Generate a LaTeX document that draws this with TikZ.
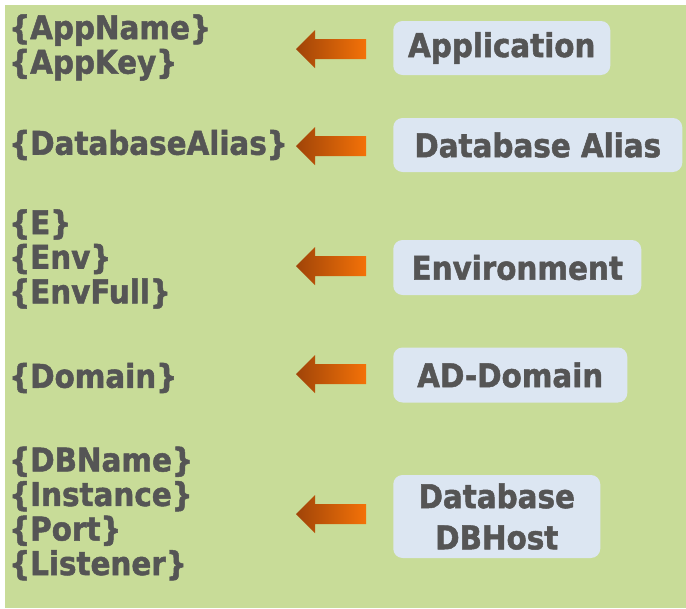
\documentclass[tikz,border=0pt]{standalone}
\usepackage{fontspec}
\setmainfont{DejaVu Sans Condensed}[BoldFeatures={FakeBold=1.5}]
\usetikzlibrary{positioning}
\definecolor{bggreen}{RGB}{200,220,152}
\definecolor{boxblue}{RGB}{220,230,242}
\definecolor{txtgray}{RGB}{85,85,85}
\definecolor{arrdark}{RGB}{160,68,8}
\definecolor{arrlight}{RGB}{244,114,8}

\begin{document}
\begin{tikzpicture}[x=0.75pt,y=-0.75pt]
  \tikzstyle{every node} = [font=\fontsize{24.5}{25.9}\selectfont\bfseries, text=txtgray];
  \tikzstyle{field} = [anchor=west, align=left, inner sep=0pt];
  \tikzstyle{srcbox} = [fill=boxblue, rounded corners=7pt, align=center, anchor=west, inner sep=0pt];
  \useasboundingbox (0,0) rectangle (686,608);
  \fill[bggreen] (5,5) rectangle (686,608);
  % placeholders on the left
  \foreach \name/\txt/\y in {appf/{\{AppName\}\\\{AppKey\}}/47.5,
                             aliasf/{\{DatabaseAlias\}}/145,
                             envf/{\{E\}\\\{Env\}\\\{EnvFull\}}/259,
                             domf/{\{Domain\}}/378,
                             hostf/{\{DBName\}\\\{Instance\}\\\{Port\}\\\{Listener\}}/513.5}{
    \node[field] (\name) at (9,\y) {\txt};
  }
  % sources on the right
  \foreach \name/\txt/\y/\w/\h in {app/Application/48/217/54,
                                   alias/Database Alias/145/289/54,
                                   env/Environment/267.5/248/55,
                                   dom/AD-Domain/375/234/55,
                                   host/{Database\\[5pt]DBHost}/516.5/207/83}{
    \node[srcbox, minimum width=\w*0.75pt, minimum height=\h*0.75pt] (\name) at (393,\y) {\txt};
  }
  % arrows
  \foreach \y in {49,146,266,374,514}{
    \shade[left color=arrdark, right color=arrlight] (296,\y) -- ++(19,-19) -- ++(0,9) -- ++(51,0)
      -- ++(0,20) -- ++(-51,0) -- ++(0,9) -- cycle;
  }
\end{tikzpicture}
\end{document}
